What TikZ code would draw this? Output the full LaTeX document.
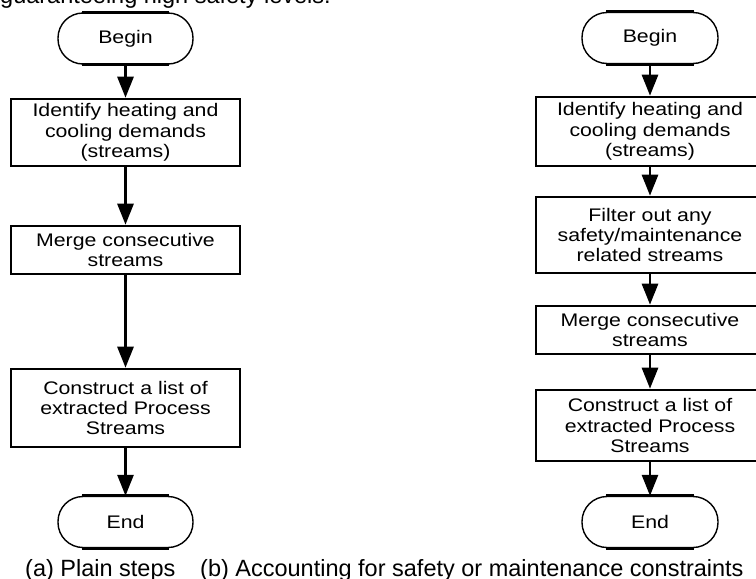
\documentclass[tikz,border=0pt]{standalone}
\usepackage{fontspec}
\setmainfont{Liberation Sans}
\newfontfamily\boxfont[FakeStretch=1.17]{Liberation Sans}
\usetikzlibrary{arrows.meta}
\begin{document}
\begin{tikzpicture}[x=1pt,y=-1pt,
  boxtext/.style={font=\boxfont\fontsize{18.2}{20.3}\selectfont},
  stepbox/.style={draw, line width=2.6pt, rectangle, inner sep=0pt, minimum width=229pt, align=center, boxtext},
  term/.style={draw, line width=1.4pt, rectangle, rounded corners=25pt, minimum width=135pt, minimum height=51pt, inner sep=0pt, boxtext},
  flatedge/.style={line width=2.8pt},
  flow/.style={line width=2.8pt, -{Triangle[width=16pt,length=21pt]}},
  captext/.style={inner sep=0pt, anchor=base west, font=\fontsize{23.5}{27}\selectfont}
]
\useasboundingbox (0,0) rectangle (756,579);
\clip (0,0) rectangle (756,579);
\fill[white] (0,0) rectangle (756,579);

% cut-off line of text above
\node[captext] (prev) at (0,3.5) {guaranteeing high safety levels.};

% (a) plain steps
\node[term] (lbegin) at (125.5,38.5) {Begin};
\node[stepbox, minimum height=67pt] (l1) at (125.5,132.5) {Identify heating and\\cooling demands\\(streams)};
\node[stepbox, minimum height=48pt] (l2) at (125.5,250) {Merge consecutive\\streams};
\node[stepbox, minimum height=78pt] (l3) at (125.5,408) {Construct a list of\\extracted Process\\Streams};
\node[term] (lend) at (125.5,522) {End};

% (b) with safety / maintenance
\node[term, minimum width=136pt] (rbegin) at (650,38) {Begin};
\node[stepbox, minimum width=228pt, minimum height=69pt] (r1) at (650,131.5) {Identify heating and\\cooling demands\\(streams)};
\node[stepbox, minimum width=228pt, minimum height=76pt] (r2) at (650,235) {Filter out any\\safety/maintenance\\related streams};
\node[stepbox, minimum width=228pt, minimum height=48pt] (r3) at (650,330) {Merge consecutive\\streams};
\node[stepbox, minimum width=228pt, minimum height=71pt] (r4) at (650,425.5) {Construct a list of\\extracted Process\\Streams};
\node[term, minimum width=136pt] (rend) at (650,522) {End};

% thick flat edges of the terminals
\foreach \t in {lbegin,lend,rbegin,rend}{
  \draw[flatedge] ([xshift=25pt]\t.north west) -- ([xshift=-25pt]\t.north east);
  \draw[flatedge] ([xshift=25pt]\t.south west) -- ([xshift=-25pt]\t.south east);
}

% connectors
\draw[flow] (lbegin) -- (l1);
\draw[flow] (l1) -- (l2);
\draw[flow] (l2) -- (l3);
\draw[flow] (l3) -- (lend);
\draw[flow] (rbegin) -- (r1);
\draw[flow] (r1) -- (r2);
\draw[flow] (r2) -- (r3);
\draw[flow] (r3) -- (r4);
\draw[flow] (r4) -- (rend);

% captions
\node[captext] (capa) at (25,576.5) {(a) Plain steps};
\node[captext] (capb) at (200,576.5) {(b) Accounting for safety or maintenance constraints};
\end{tikzpicture}
\end{document}
